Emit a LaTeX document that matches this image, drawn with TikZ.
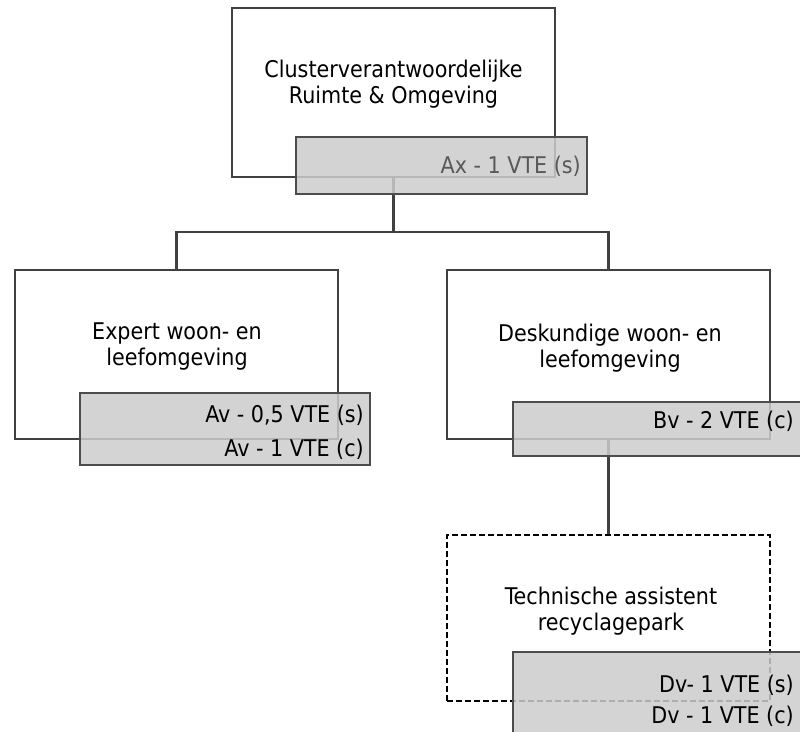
\documentclass[tikz,border=0pt]{standalone}
\usepackage{fontspec}
\setmainfont{DejaVu Sans Condensed}
\begin{document}
\begin{tikzpicture}[x=1pt,y=-1pt,
  line/.style={draw=black!75,line width=2.2pt},
  unitbox/.style={line,fill=white,rectangle,inner sep=0pt,minimum width=323pt,minimum height=169pt},
  vacant/.style={unitbox,dash pattern=on 6pt off 3pt,draw=black},
  fte/.style={line,draw=black!70,rectangle,inner sep=0pt,fill={rgb,255:red,204;green,204;blue,204},fill opacity=0.85},
  title/.style={align=center,font=\fontsize{23}{26}\selectfont,text=black,inner sep=0pt},
  ftetext/.style={anchor=base east,font=\fontsize{23}{26}\selectfont,text=black,inner sep=0pt}]
\useasboundingbox (0,0) rectangle (800,731);
\clip (0,0) rectangle (800,731);

% functions
\node[unitbox] (top) at (393.5,92.5) {};
\node[unitbox] (left) at (176.5,354.5) {};
\node[unitbox] (right) at (608.5,354.5) {};
\node[vacant,minimum height=166pt] (tech) at (608.5,618) {};

% hierarchy lines
\coordinate (bus) at (393.5,232);
\draw[line] (top.south) -- (bus);
\draw[line] (bus) -| (left.north);
\draw[line] (bus) -| (right.north);
\draw[line] (right.south) -- (tech.north);

% titles
\node[title] (toptxt) at (393.5,84) {Clusterverantwoordelijke\\Ruimte \& Omgeving};
\node[title] (lefttxt) at (177,347) {Expert woon- en\\leefomgeving};
\node[title] (righttxt) at (610,348.5) {Deskundige woon- en\\leefomgeving};
\node[title] (techtxt) at (611,611) {Technische assistent\\recyclagepark};

% staffing boxes
\node[fte,minimum width=291pt,minimum height=57pt] (topfte) at (441.5,165.5) {};
\node[fte,minimum width=290pt,minimum height=72pt] (leftfte) at (225,429) {};
\node[fte,minimum width=300pt,minimum height=54pt] (rightfte) at (663,429) {};
\node[fte,minimum width=300pt,minimum height=100pt] (techfte) at (663,702) {};

\node[ftetext,text=black!65] (ax) at (581,173) {Ax - 1 VTE (s)};
\node[ftetext] (av1) at (364,422) {Av - 0,5 VTE (s)};
\node[ftetext] (av2) at (364,456) {Av - 1 VTE (c)};
\node[ftetext] (bv) at (794,428) {Bv - 2 VTE (c)};
\node[ftetext] (dv1) at (794,692) {Dv- 1 VTE (s)};
\node[ftetext] (dv2) at (794,723) {Dv - 1 VTE (c)};
\end{tikzpicture}
\end{document}
